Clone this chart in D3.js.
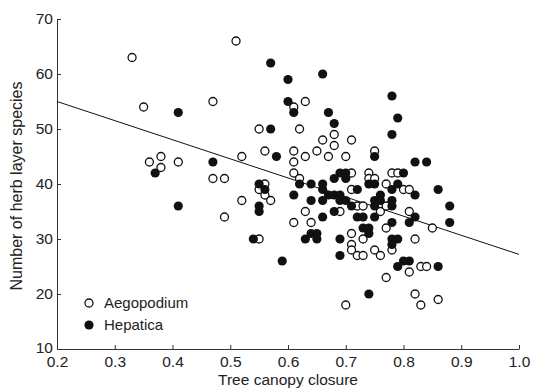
<!DOCTYPE html>
<html>
<head>
<meta charset="utf-8">
<script src="https://cdn.jsdelivr.net/npm/d3@7"></script>
<style>
  body { margin: 0; background: #fff; }
  text { font-family: "Liberation Sans", Arial, sans-serif; fill: #222; }
</style>
</head>
<body>
<div id="chart"></div>
<script>
// canopy closure / species count
const aegopodium = [
  [0.33, 63], [0.35, 54], [0.36, 44], [0.38, 45], [0.38, 43], [0.41, 44],
  [0.47, 55], [0.51, 66], [0.47, 41], [0.49, 41], [0.52, 45], [0.49, 34], [0.52, 37],
  [0.55, 50], [0.55, 39], [0.56, 40], [0.56, 38], [0.57, 37], [0.56, 46], [0.55, 30],
  [0.61, 54], [0.63, 55], [0.62, 50], [0.61, 46], [0.63, 45], [0.65, 46], [0.61, 44],
  [0.61, 42], [0.62, 41], [0.66, 48], [0.68, 49], [0.68, 47], [0.67, 45], [0.70, 45],
  [0.71, 48], [0.63, 35], [0.61, 33], [0.64, 33], [0.69, 35], [0.71, 42], [0.71, 39],
  [0.72, 36], [0.73, 36], [0.71, 31], [0.71, 29], [0.71, 28], [0.72, 27], [0.70, 18],
  [0.74, 42], [0.74, 41], [0.75, 41], [0.75, 46], [0.77, 40], [0.78, 42], [0.79, 42],
  [0.80, 39], [0.81, 39], [0.76, 35], [0.77, 36], [0.81, 35], [0.77, 32], [0.85, 32],
  [0.73, 30], [0.82, 30], [0.75, 28], [0.73, 27], [0.76, 27], [0.78, 28], [0.81, 24],
  [0.83, 25], [0.84, 25], [0.77, 23], [0.82, 20], [0.83, 18], [0.86, 19]
];

const hepatica = [
  [0.41, 53], [0.37, 42], [0.41, 36], [0.47, 44],
  [0.57, 62], [0.60, 59], [0.66, 60], [0.60, 55], [0.61, 53], [0.67, 53], [0.68, 51],
  [0.57, 50], [0.58, 45], [0.55, 40], [0.56, 39], [0.55, 36], [0.55, 35], [0.54, 30],
  [0.59, 26], [0.62, 40], [0.64, 40], [0.66, 40], [0.68, 41], [0.69, 42], [0.70, 41],
  [0.70, 42], [0.61, 38], [0.66, 39], [0.67, 38], [0.68, 38], [0.69, 38], [0.64, 37],
  [0.66, 37], [0.69, 37], [0.70, 37], [0.71, 36], [0.72, 39], [0.66, 34], [0.68, 35],
  [0.72, 34], [0.63, 30], [0.64, 31], [0.65, 31], [0.65, 30], [0.69, 30], [0.69, 27],
  [0.78, 56], [0.79, 52], [0.78, 49], [0.75, 45], [0.82, 44], [0.84, 44], [0.80, 42],
  [0.74, 40], [0.75, 40], [0.79, 40], [0.78, 39], [0.86, 39], [0.82, 38], [0.76, 38],
  [0.75, 37], [0.76, 37], [0.78, 37], [0.78, 36], [0.75, 36], [0.88, 36], [0.88, 33],
  [0.82, 34], [0.81, 33], [0.73, 34], [0.75, 34], [0.73, 32], [0.74, 32], [0.74, 31],
  [0.78, 33], [0.78, 30], [0.79, 30], [0.78, 29], [0.79, 25], [0.80, 26], [0.81, 26],
  [0.86, 25], [0.74, 20]
];

// fitted line end points
const fitX = [0.2, 1.0];
const fitY = [55, 27.2];

const xTicks = [0.2, 0.3, 0.4, 0.5, 0.6, 0.7, 0.8, 0.9, 1.0];
const yTicks = [10, 20, 30, 40, 50, 60, 70];
const legendLabels = ['Aegopodium', 'Hepatica'];

const width = 533;
const height = 388;
const margin = { top: 19, right: 14, bottom: 39, left: 57 };

const svg = d3.select('#chart')
  .append('svg')
  .attr('width', width)
  .attr('height', height)
  .style('background-color', '#fff');

const x = d3.scaleLinear().domain([0.2, 1.0]).range([margin.left, width - margin.right]);
const y = d3.scaleLinear().domain([10, 70]).range([height - margin.bottom, margin.top]);

// axes, ticks pointing inwards
const xAxis = svg.append('g')
  .attr('transform', `translate(0,${height - margin.bottom})`)
  .call(d3.axisBottom(x).tickValues(xTicks).tickFormat(d3.format('.1f'))
    .tickSizeInner(-4).tickSizeOuter(0).tickPadding(7));

const yAxis = svg.append('g')
  .attr('transform', `translate(${margin.left},0)`)
  .call(d3.axisLeft(y).tickValues(yTicks).tickSizeInner(-4).tickSizeOuter(0).tickPadding(4));

[xAxis, yAxis].forEach(g => {
  g.selectAll('path, line').attr('stroke', '#333').attr('stroke-width', 1);
  g.selectAll('text').style('font-size', '15.5px').attr('fill', '#222')
    .style('font-family', '"Liberation Sans", Arial, sans-serif');
});
// lift the bottom y label a touch so it clears the x labels
yAxis.selectAll('.tick text').filter(d => d === 10).attr('dy', '0.2em');

// regression line
const line = d3.line().x(d => x(d[0])).y(d => y(d[1]));
svg.append('path')
  .attr('d', line(fitX.map((v, i) => [v, fitY[i]])))
  .attr('fill', 'none')
  .attr('stroke', '#111')
  .attr('stroke-width', 1);

// points
svg.append('g').selectAll('circle')
  .data(aegopodium)
  .enter()
  .append('circle')
  .attr('cx', d => x(d[0]))
  .attr('cy', d => y(d[1]))
  .attr('r', 4)
  .attr('fill', '#fff')
  .attr('stroke', '#111')
  .attr('stroke-width', 1.3);

svg.append('g').selectAll('circle')
  .data(hepatica)
  .enter()
  .append('circle')
  .attr('cx', d => x(d[0]))
  .attr('cy', d => y(d[1]))
  .attr('r', 4.6)
  .attr('fill', '#111');

// legend
const legend = svg.append('g');
legendLabels.forEach((name, i) => {
  const ly = 303 + i * 22;
  legend.append('circle')
    .attr('cx', 89)
    .attr('cy', ly)
    .attr('r', i === 0 ? 4 : 4.6)
    .attr('fill', i === 0 ? '#fff' : '#111')
    .attr('stroke', i === 0 ? '#111' : 'none')
    .attr('stroke-width', 1.3);
  legend.append('text')
    .attr('x', 104)
    .attr('y', ly)
    .attr('dy', '0.36em')
    .style('font-size', '15px')
    .text(name);
});

// axis titles
svg.append('text')
  .attr('x', (margin.left + width - margin.right) / 2)
  .attr('y', 385)
  .attr('text-anchor', 'middle')
  .style('font-size', '15.5px')
  .text('Tree canopy closure');

svg.append('text')
  .attr('transform', `translate(22,${(margin.top + height - margin.bottom) / 2 + 2}) rotate(-90)`)
  .attr('text-anchor', 'middle')
  .style('font-size', '16px')
  .text('Number of herb layer species');
</script>
</body>
</html>
